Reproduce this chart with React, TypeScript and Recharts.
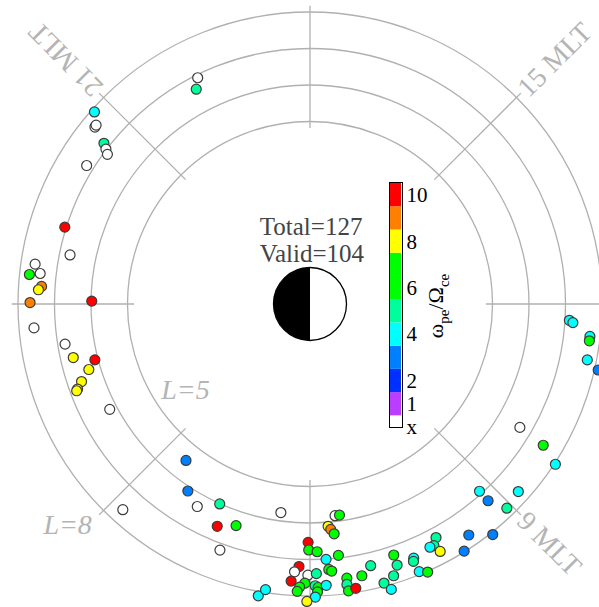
import {
  Bar,
  BarChart,
  Cell,
  ReferenceDot,
  ReferenceLine,
  Scatter,
  ScatterChart,
  XAxis,
  YAxis,
} from "recharts";

// event positions: magnetic local time, L shell, and wpe/Wce (null = invalid, "x")
const mlt = [
  19.76, 19.86, 21.22, 21.37, 21.34, 21.47, 21.52, 21.57, 21.88, 22.84, 23.23, 23.45, 23.6, 23.57, 23.75, 23.8, 23.98, 23.95,
  0.33, 0.62, 0.85, 0.97, 1.1, 1.25, 1.34, 1.36, 1.85, 3.44, 3.79, 4.06, 4.38, 3.18, 5.47, 4.49, 4.77, 4.66,
  6.45, 6.53, 6.31, 6.35, 6.4, 5.97, 5.98, 6.11, 6.24, 6.43, 5.84, 5.78, 5.97, 5.74, 6.09, 6.27, 6.31, 5.93, 5.86, 5.83,
  6.07, 6.11, 6.22, 6.1, 6.07, 5.96, 6.51, 6.5, 6.51, 6.61, 6.72, 6.87, 6.99, 7.06, 7.14, 7.23, 7.23, 7.48, 7.46, 7.48,
  7.58, 7.89, 7.81, 7.75, 7.85, 5.33, 5.41,
  11.76, 11.73, 11.56, 11.5, 11.24, 11.14, 9.97, 9.92, 9.79, 8.81, 8.81, 8.93, 9.2, 8.3, 8.56, 8.13,
];
const lShell = [
  6.92, 6.66, 7.91, 7.63, 7.64, 7.16, 7.02, 6.9, 7.2, 7.04, 6.71, 7.61, 7.73, 7.44, 7.37, 7.45, 7.67, 5.98,
  7.59, 6.8, 6.65, 6.09, 6.32, 6.61, 6.78, 6.82, 6.2, 5.47, 6.12, 6.35, 6.01, 7.62, 5.77, 6.6, 6.4, 7.18,
  5.84, 5.84, 6.11, 6.2, 6.33, 6.53, 6.74, 6.79, 7.01, 6.93, 7.2, 7.35, 7.43, 7.61, 7.39, 7.29, 7.34, 7.65, 7.76, 7.88,
  7.72, 7.77, 7.72, 7.89, 8.03, 8.15, 7.58, 7.75, 7.93, 7.89, 7.58, 7.36, 7.91, 8.13, 7.79, 7.25, 7.54, 7.52, 7.6, 7.92,
  8.02, 7.27, 7.44, 7.43, 7.66, 8.12, 7.92,
  7.12, 7.22, 7.72, 7.72, 7.75, 8.1, 6.67, 7.47, 8.03, 6.92, 7.27, 7.77, 7.68, 7.68, 8.06, 7.98,
];
const ratio: (number | null)[] = [
  null, 5, 4, null, null, 5, null, null, null, 10, null, null, 6, null, 9, 8, 9, 10,
  null, null, 8, 10, 8, 8, 8, 8, null, 3, 3, null, 5, null, null, 10, 6, null,
  null, 6, 8, 9, 6, 10, 6, 6, 4, 6, 10, null, null, 10, 5, 6, 6, 6, 6, 6,
  5, 6, 4, 6, 4, 8, 6, 5, 6, 10, 6, 5, 5, 4, 5, 6, 5, 4, 5, 4,
  6, 5, 5, 4, 8, 4, 4,
  4, 4, 4, 6, 4, 3, null, 6, 4, 4, 3, 5, 4, 3, 3, 3,
];

const rings = [5, 6, 7, 8];
const spokes = [0, 3, 6, 9, 12, 15, 18, 21];
const mltLabels = [21, 15, 9];
const lLabels = [5, 8];
const totalCount = 127;
const validCount = 104;

// colour bar: bottom to top
const barHeights = [0.5, 1, 1, 1, 1, 1, 1, 1, 1, 1, 1];
const binColors = [
  "#ffffff", "#bb3dff", "#0030ff", "#0080ff", "#00ffff", "#00ff9c",
  "#00ff00", "#00ff00", "#ffff00", "#ff8000", "#ff0000",
];
const barTicks = [0, 1, 2, 4, 6, 8, 10];
const barTickLabels = ["x", "1", "2", "4", "6", "8", "10"];

const W = 599;
const H = 607;
const CX = 310;
const CY = 304;
const PX = 36.5; // pixels per L unit
const xDomain = [-CX / PX, (W - CX) / PX];
const yDomain = [-(H - CY) / PX, CY / PX];

const FONT = '"Liberation Serif", "Times New Roman", serif';
const GRID = "#b0b0b0";

const toXY = (m: number, l: number) => {
  const a = ((m - 12) * 15 * Math.PI) / 180;
  return { x: l * Math.cos(a), y: l * Math.sin(a) };
};

const colorOf = (v: number | null) => (v == null ? "#ffffff" : binColors[Math.round(v)]);

const points = mlt.map((m, i) => ({ ...toXY(m, lShell[i]), v: ratio[i] }));

const lLabelPos: Record<number, { x: number; y: number }> = {
  5: { x: -3.41, y: -2.6 },
  8: { x: -6.64, y: -6.3 },
};

const barRow = [Object.fromEntries(barHeights.map((h, i) => [`b${i}`, h]))];

// colour bar box
const BAR_LEFT = 389.3;
const BAR_TOP = 182.7;
const BAR_W = 12.4;
const BAR_H = 244;

const App = () => {
  return (
    <div style={{ position: "absolute", left: 0, top: 0, width: W, height: H, background: "#fff" }}>
      <ScatterChart width={W} height={H} margin={{ top: 0, right: 0, bottom: 0, left: 0 }}>
        <XAxis type="number" dataKey="x" domain={xDomain} allowDataOverflow hide />
        <YAxis type="number" dataKey="y" domain={yDomain} allowDataOverflow hide />
        {rings.map((l) => (
          <ReferenceDot key={`ring${l}`} x={0} y={0} r={l * PX} fill="none" stroke={GRID} strokeWidth={1.3} />
        ))}
        {spokes.map((m) => (
          <ReferenceLine
            key={`spoke${m}`}
            segment={[toXY(m, 4.82), toXY(m, 8.17)]}
            stroke={GRID}
            strokeWidth={1.3}
            ifOverflow="visible"
          />
        ))}
        {mltLabels.map((m) => {
          const p = toXY(m, 8.22);
          return (
            <ReferenceDot
              key={`mlt${m}`}
              x={p.x}
              y={p.y}
              r={0}
              shape={({ cx, cy }: any) => (
                <text
                  x={cx}
                  y={cy}
                  transform={`rotate(${-(m - 12) * 15} ${cx} ${cy})`}
                  textAnchor="start"
                  dominantBaseline="central"
                  fontFamily={FONT}
                  fontSize={28}
                  fill="#b4b4b4"
                >
                  {m} MLT
                </text>
              )}
            />
          );
        })}
        {lLabels.map((l) => (
          <ReferenceDot
            key={`lab${l}`}
            x={lLabelPos[l].x}
            y={lLabelPos[l].y}
            r={0}
            shape={({ cx, cy }: any) => (
              <text x={cx} y={cy} textAnchor="middle" fontFamily={FONT} fontStyle="italic" fontSize={28} fill="#b4b4b4">
                L={l}
              </text>
            )}
          />
        ))}
        <ReferenceDot
          x={0}
          y={0}
          r={PX}
          shape={({ cx, cy }: any) => (
            <g>
              <circle cx={cx} cy={cy} r={PX} fill="#fff" stroke="#000" strokeWidth={1.3} />
              <path d={`M${cx},${cy - PX} A${PX},${PX} 0 0 0 ${cx},${cy + PX} Z`} fill="#000" />
            </g>
          )}
        />
        <ReferenceDot
          x={0.03}
          y={1.89}
          r={0}
          shape={({ cx, cy }: any) => (
            <text x={cx} y={cy} textAnchor="middle" fontFamily={FONT} fontSize={25} fill="#444">
              Total={totalCount}
            </text>
          )}
        />
        <ReferenceDot
          x={0.05}
          y={1.16}
          r={0}
          shape={({ cx, cy }: any) => (
            <text x={cx} y={cy} textAnchor="middle" fontFamily={FONT} fontSize={25} fill="#444">
              Valid={validCount}
            </text>
          )}
        />
        <ReferenceDot
          x={(443 - CX) / PX}
          y={(CY - 306) / PX}
          r={0}
          shape={({ cx, cy }: any) => (
            <text
              x={cx}
              y={cy}
              transform={`rotate(-90 ${cx} ${cy})`}
              textAnchor="middle"
              fontFamily={FONT}
              fontSize={22}
              fill="#000"
            >
              ω
              <tspan fontSize={15} dy={6}>pe</tspan>
              <tspan fontSize={22} dy={-6}>/Ω</tspan>
              <tspan fontSize={15} dy={6}>ce</tspan>
            </text>
          )}
        />
        <Scatter
          data={points}
          isAnimationActive={false}
          shape={(p: any) => (
            <circle cx={p.cx} cy={p.cy} r={5} fill={p.fill} stroke="#3c3c3c" strokeWidth={1.2} />
          )}
        >
          {points.map((pt, i) => (
            <Cell key={i} fill={colorOf(pt.v)} />
          ))}
        </Scatter>
      </ScatterChart>
      <div style={{ position: "absolute", left: BAR_LEFT, top: BAR_TOP - 10 }}>
        <BarChart
          width={BAR_W + 40}
          height={BAR_H + 22}
          data={barRow}
          margin={{ top: 10, right: 0, bottom: 12, left: 0 }}
          barCategoryGap={0}
          barGap={0}
        >
          <XAxis type="category" hide />
          <YAxis
            type="number"
            orientation="right"
            domain={[0, 10.5]}
            ticks={barTicks}
            width={40}
            axisLine={false}
            tickLine={false}
            tickSize={3}
            tickMargin={2}
            interval={0}
            tick={{ fontSize: 21, fill: "#000", fontFamily: FONT }}
            tickFormatter={(v: number) => barTickLabels[barTicks.indexOf(v)]}
          />
          {barHeights.map((_, i) => (
            <Bar key={i} dataKey={`b${i}`} stackId="c" fill={binColors[i]} isAnimationActive={false} />
          ))}
        </BarChart>
      </div>
      <div
        style={{
          position: "absolute",
          left: BAR_LEFT - 0.6,
          top: BAR_TOP - 0.6,
          width: BAR_W,
          height: BAR_H,
          border: "1.2px solid #000",
        }}
      />
    </div>
  );
};

export default App;
